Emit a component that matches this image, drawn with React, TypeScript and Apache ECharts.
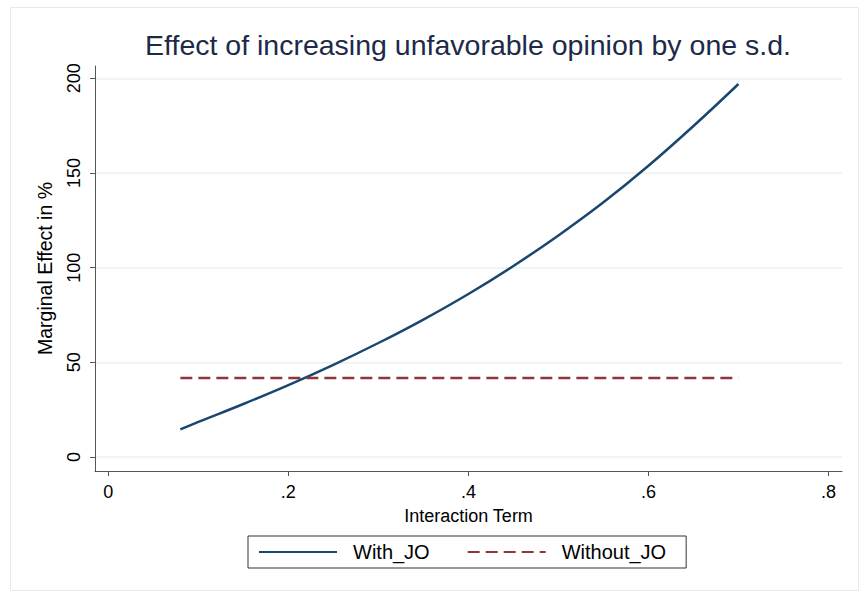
import React, { useEffect, useRef } from "react";
import * as echarts from "echarts";

const xValues = [0.08, 0.1, 0.15, 0.2, 0.25, 0.3, 0.35, 0.4, 0.45, 0.5, 0.55, 0.6, 0.65, 0.7];
const withJO = [14.6, 18.5, 28.0, 38.0, 48.7, 60.2, 72.6, 86.1, 100.9, 117.0, 134.5, 153.8, 174.8, 197.0];
const withoutX = [0.08, 0.7];
const withoutJO = [41.7, 41.7];
const xTicks = [0, 0.2, 0.4, 0.6, 0.8];
const yTicks = [0, 50, 100, 150, 200];
const seriesNames = ["With_JO", "Without_JO"];
const titleText = "Effect of increasing unfavorable opinion by one s.d.";
const xName = "Interaction Term";
const yName = "Marginal Effect in %";

const FONT = "'Liberation Sans', Arial, sans-serif";

export default function App() {
  const ref = useRef<HTMLDivElement>(null);
  useEffect(() => {
    document.body.style.margin = "0";
    const chart = echarts.init(ref.current!, null, { renderer: "svg" });
    chart.setOption({
      animation: false,
      backgroundColor: "#ffffff",
      textStyle: { fontFamily: FONT },
      grid: { left: 95, right: 26, top: 66, bottom: 126 },
      graphic: [
        {
          type: "rect",
          shape: { x: 10.5, y: 7.5, width: 848, height: 583 },
          style: { fill: "none", stroke: "#e3ebee", lineWidth: 1 },
          silent: true,
          z: -1,
        },
        {
          type: "text",
          x: 468,
          y: 45,
          style: {
            text: titleText,
            fontSize: 28.5,
            fontFamily: FONT,
            fill: "#1c2a4a",
            textAlign: "center",
            textVerticalAlign: "middle",
          },
        },
      ],
      legend: {
        data: seriesNames,
        left: 248,
        top: 536,
        orient: "horizontal",
        itemWidth: 78,
        itemHeight: 14,
        itemGap: 37,
        borderColor: "#333",
        borderWidth: 1,
        borderRadius: 0,
        padding: [6, 20, 6, 10],
        itemStyle: { opacity: 0, borderWidth: 0 },
        textStyle: { fontSize: 20, color: "#000", padding: [0, 0, 0, 11], fontFamily: FONT },
      },
      xAxis: {
        type: "value",
        min: -0.0148,
        max: 0.815,
        name: xName,
        nameLocation: "middle",
        nameGap: 36,
        nameTextStyle: { fontSize: 18, color: "#000", fontFamily: FONT },
        axisLine: { show: true, onZero: false, lineStyle: { color: "#555", width: 1 } },
        axisTick: { show: true, length: 5, customValues: xTicks, lineStyle: { color: "#555" } },
        axisLabel: {
          customValues: xTicks,
          fontSize: 18,
          color: "#000",
          margin: 12,
          fontFamily: FONT,
          formatter: (v: number) => (v === 0 ? "0" : String(v).replace(/^0/, "")),
        },
        splitLine: { show: false },
      },
      yAxis: {
        type: "value",
        min: -7.4,
        max: 206.5,
        name: yName,
        nameLocation: "middle",
        nameRotate: 90,
        nameGap: 40,
        nameTextStyle: { fontSize: 19.5, color: "#000", fontFamily: FONT },
        axisLine: { show: true, onZero: false, lineStyle: { color: "#555", width: 1 } },
        axisTick: { show: true, length: 5, customValues: yTicks, lineStyle: { color: "#555" } },
        axisLabel: {
          customValues: yTicks,
          rotate: 90,
          fontSize: 18,
          color: "#000",
          margin: 12,
          fontFamily: FONT,
        },
        splitLine: { show: true, lineStyle: { color: "#eaf2f3", width: 1.5 } },
      },
      series: [
        {
          name: seriesNames[0],
          type: "line",
          data: xValues.map((x, i) => [x, withJO[i]]),
          symbol: "none",
          showSymbol: false,
          smooth: 0.4,
          lineStyle: { color: "#1a476f", width: 2.5 },
          itemStyle: { color: "#1a476f" },
        },
        {
          name: seriesNames[1],
          type: "line",
          data: withoutX.map((x, i) => [x, withoutJO[i]]),
          symbol: "none",
          showSymbol: false,
          lineStyle: { color: "#90353b", width: 2.5, type: [12, 6] },
          itemStyle: { color: "#90353b" },
        },
      ],
    });
    return () => chart.dispose();
  }, []);
  return <div ref={ref} style={{ width: 868, height: 597 }} />;
}
